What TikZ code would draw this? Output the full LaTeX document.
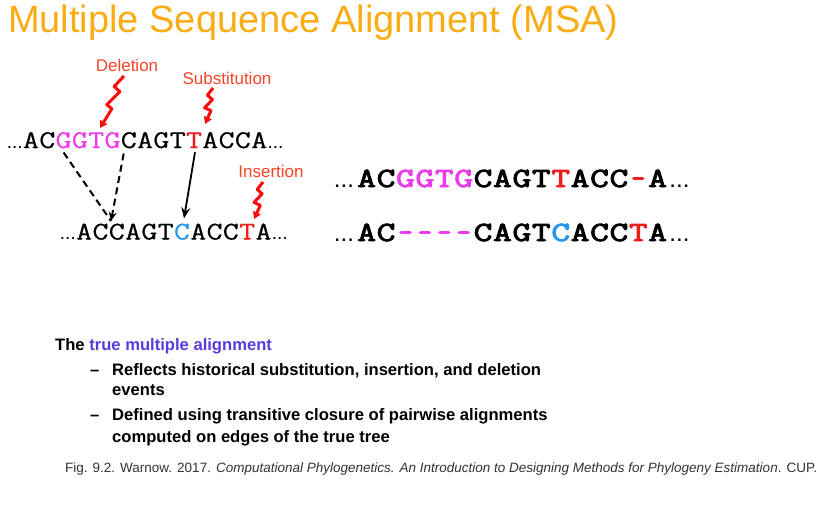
\documentclass[tikz,border=0pt]{standalone}
\usepackage{fontspec}
\setmainfont{Liberation Sans}
\newfontfamily\lmmono{Latin Modern Mono}[FakeBold=0.5]
\newfontfamily\lmmonob{Latin Modern Mono}[FakeBold=3]
\usetikzlibrary{calc,arrows.meta}
\definecolor{titleor}{RGB}{250,172,20}
\definecolor{labred}{RGB}{250,70,40}
\definecolor{boltred}{RGB}{255,10,10}
\definecolor{mag}{RGB}{235,60,235}
\definecolor{tred}{RGB}{235,30,30}
\definecolor{cblue}{RGB}{40,150,240}
\definecolor{purp}{RGB}{90,60,220}
\newcommand\wideL[1]{\scalebox{1.22}[1]{#1}}
\newcommand\wideR[1]{\if-#1\scalebox{1.0}[1]{#1}\else\scalebox{1.3}[1]{#1}\fi}
\tikzset{
  seqL/.style={inner sep=0pt,anchor=base,font=\lmmono\fontsize{25.5}{28}\selectfont},
  seqR/.style={inner sep=0pt,anchor=base,font=\lmmonob\fontsize{27.8}{30}\selectfont},
  dotsL/.style={inner sep=0pt,font=\fontsize{19}{20}\selectfont},
  dotsR/.style={inner sep=0pt,font=\fontsize{24}{25}\selectfont},
  evlabel/.style={inner sep=0pt,text=labred,font=\fontsize{17}{18}\selectfont},
  bolt/.style={draw=boltred,line width=3pt,line join=round,-{Triangle[length=7pt,width=8pt]}},
  dashlink/.style={draw=black,line width=2pt,dash pattern=on 7pt off 4.5pt},
  solidlink/.style={draw=black,line width=1.8pt,-{Stealth[length=11pt,width=9pt,inset=4pt]}},
  body/.style={inner sep=0pt,anchor=base west,font=\bfseries\fontsize{16.6}{20}\selectfont},
}
\begin{document}
\begin{tikzpicture}[x=1pt,y=-1pt]
\useasboundingbox[fill=white] (0,0) rectangle (839,504);
% title
\node[inner sep=0pt,anchor=base west,text=titleor,font=\fontsize{38}{40}\selectfont] (title) at (8,32) {Multiple Sequence Alignment (MSA)};
% left top sequence
\foreach \c/\col [count=\i] in {A/black,C/black,G/mag,G/mag,T/mag,G/mag,C/black,A/black,G/black,T/black,T/tred,A/black,C/black,C/black,A/black}
  \node[seqL,text=\col] (t\i) at ({31+(\i-1)*16.3},148) {\wideL{\c}};
\node[dotsL,anchor=base east] (tdl) at (t1.base west) {...};
\node[dotsL,anchor=base west] (tdr) at (t15.base east) {...};
% left bottom sequence
\foreach \c/\col [count=\i] in {A/black,C/black,C/black,A/black,G/black,T/black,C/cblue,A/black,C/black,C/black,T/tred,A/black}
  \node[seqL,text=\col] (b\i) at ({84.2+(\i-1)*16.3},239.5) {\wideL{\c}};
\node[dotsL,anchor=base east] (bdl) at (b1.base west) {...};
\node[dotsL,anchor=base west] (bdr) at (b12.base east) {...};
% right top row
\foreach \c/\col [count=\i] in {A/black,C/black,G/mag,G/mag,T/mag,G/mag,C/black,A/black,G/black,T/black,T/tred,A/black,C/black,C/black,-/tred,A/black}
  \node[seqR,text=\col] (r\i) at ({366.7+(\i-1)*19.4},187) {\wideR{\c}};
\node[dotsR,anchor=base east] (rdl) at ([xshift=-3pt]r1.base west) {...};
\node[dotsR,anchor=base west] (rdr) at ([xshift=2pt]r16.base east) {...};
% right bottom row
\foreach \c/\col [count=\i] in {A/black,C/black,-/mag,-/mag,-/mag,-/mag,C/black,A/black,G/black,T/black,C/cblue,A/black,C/black,C/black,T/tred,A/black}
  \node[seqR,text=\col] (s\i) at ({366.7+(\i-1)*19.4},241) {\wideR{\c}};
\node[dotsR,anchor=base east] (sdl) at ([xshift=-3pt]s1.base west) {...};
\node[dotsR,anchor=base west] (sdr) at ([xshift=2pt]s16.base east) {...};
% event labels
\node[evlabel] (del) at (127,65) {Deletion};
\node[evlabel] (sub) at (227,78) {Substitution};
\node[evlabel] (ins) at (271,171) {Insertion};
\coordinate (dtip) at (100,128);
\coordinate (stip) at (205,124);
\coordinate (itip) at (254,219);
\coordinate (dstart) at (124,76);
\coordinate (sstart) at (213,88);
\coordinate (istart) at (263,182);
\draw[bolt] (dstart) -- ($(dstart)!0.2!(dtip)+(-5,0)$) -- ($(dstart)!0.3!(dtip)+(3,0)$) -- ($(dstart)!0.55!(dtip)+(-4,0)$) -- ($(dstart)!0.63!(dtip)+(3,0)$) -- (dtip);
\draw[bolt] (sstart) -- ($(sstart)!0.2!(stip)+(-4,0)$) -- ($(sstart)!0.32!(stip)+(2,0)$) -- ($(sstart)!0.55!(stip)+(-4,0)$) -- ($(sstart)!0.63!(stip)+(3,0)$) -- (stip);
\draw[bolt] (istart) -- ($(istart)!0.2!(itip)+(-4,0)$) -- ($(istart)!0.32!(itip)+(2,0)$) -- ($(istart)!0.55!(itip)+(-4,0)$) -- ($(istart)!0.63!(itip)+(3,0)$) -- (itip);
% links
\coordinate (join) at (111,221);
\draw[dashlink] ($(t3.south)+(0,4)$) -- (join);
\draw[dashlink,-{Stealth[length=9pt,width=8pt,inset=3pt]}] ($(t6.south east)+(3,5)$) -- (join);
\draw[solidlink] ($(t11.south)+(1,4)$) -- ($(b7.north)+(2,-5)$);
% text block
\node[body] (head) at (55,350) {The \textcolor{purp}{true multiple alignment}};
\node[body] (d1) at (90,375.5) {–};
\node[body] (l1) at (112,375.5) {Reflects historical substitution, insertion, and deletion};
\node[body] (l1b) at (112,395) {events};
\node[body] (d2) at (90,420) {–};
\node[body] (l2) at (112,420) {Defined using transitive closure of pairwise alignments};
\node[body] (l2b) at (112,442) {computed on edges of the true tree};
\node[inner sep=0pt,anchor=base west,text=black!80,font=\fontsize{13.5}{15}\selectfont] (cap) at (65,472.5) {Fig. 9.2. Warnow. 2017. \textit{Computational Phylogenetics. An Introduction to Designing Methods for Phylogeny Estimation}. CUP.};
\end{tikzpicture}
\end{document}
